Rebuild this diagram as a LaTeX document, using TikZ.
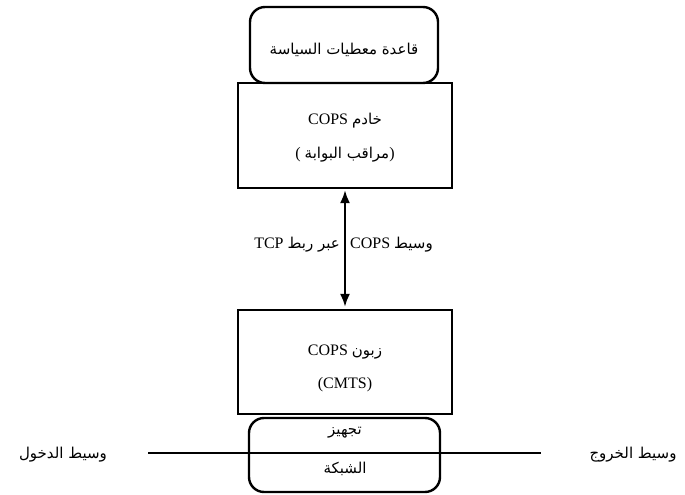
\documentclass[tikz,border=0pt]{standalone}
\usepackage{fontspec}
\setmainfont{Liberation Serif}
\newfontfamily\arabicfont[Script=Arabic]{DejaVu Sans}
\TeXXeTstate=1
\usetikzlibrary{arrows.meta}
\newcommand{\arx}{\fontsize{15bp}{18bp}\selectfont\arabicfont}
\begin{document}
\begin{tikzpicture}[x=1bp,y=-1bp,
  rbox/.style={draw, line width=2.4bp, rounded corners=15bp, inner sep=0pt},
  sbox/.style={draw, line width=2.1bp, inner sep=0pt, minimum width=214bp},
  txt/.style={inner sep=1bp, font=\fontsize{16bp}{18bp}\selectfont},
  dbl/.style={{Latex[length=13bp,width=10bp]}-{Latex[length=13bp,width=10bp]}, line width=2.4bp}]
\useasboundingbox (0,0) rectangle (685,495);
% boxes
\node[rbox, minimum width=188bp, minimum height=76bp] (db) at (344,45) {};
\node[sbox, minimum height=105bp] (srv) at (345,135.5) {};
\node[sbox, minimum height=104bp] (cli) at (345,362) {};
\node[rbox, minimum width=191bp, minimum height=74bp] (net) at (344.5,455) {};
% texts
\node[txt] (dbt) at (344,50) {{\arx\beginR قاعدة معطيات  السياسة\endR}};
\node[txt] (srv1) at (345,121) {COPS {\arx\beginR خادم\endR}};
\node[txt] (srv2) at (345,155) {( {\arx\beginR مراقب البوابة\endR})};
\node[txt] (cli1) at (345,352) {COPS {\arx\beginR زبون\endR}};
\node[txt] (cli2) at (345,385) {(CMTS)};
\node[txt] (net1) at (345,433) {{\arx\beginR تجهيز\endR}};
\node[txt] (net2) at (345,469) {{\arx\beginR الشبكة\endR}};
% arrow
\draw[dbl] ([yshift=-1bp]srv.south) -- ([yshift=2bp]cli.north);
\node[txt, anchor=east] (lblL) at (341,245) {TCP {\arx\beginR عبر ربط\endR}};
\node[txt, anchor=west] (lblR) at (349,245) {COPS {\arx\beginR وسيط\endR}};
% media line
\coordinate (mL) at (148,453);
\coordinate (mR) at (541,453);
\draw[line width=2.6bp] (mL) -- (mR);
\node[txt] (inL) at (63,455) {{\arx\beginR وسيط الدخول\endR}};
\node[txt] (outR) at (633,455) {{\arx\beginR وسيط الخروج\endR}};
\end{tikzpicture}
\end{document}
